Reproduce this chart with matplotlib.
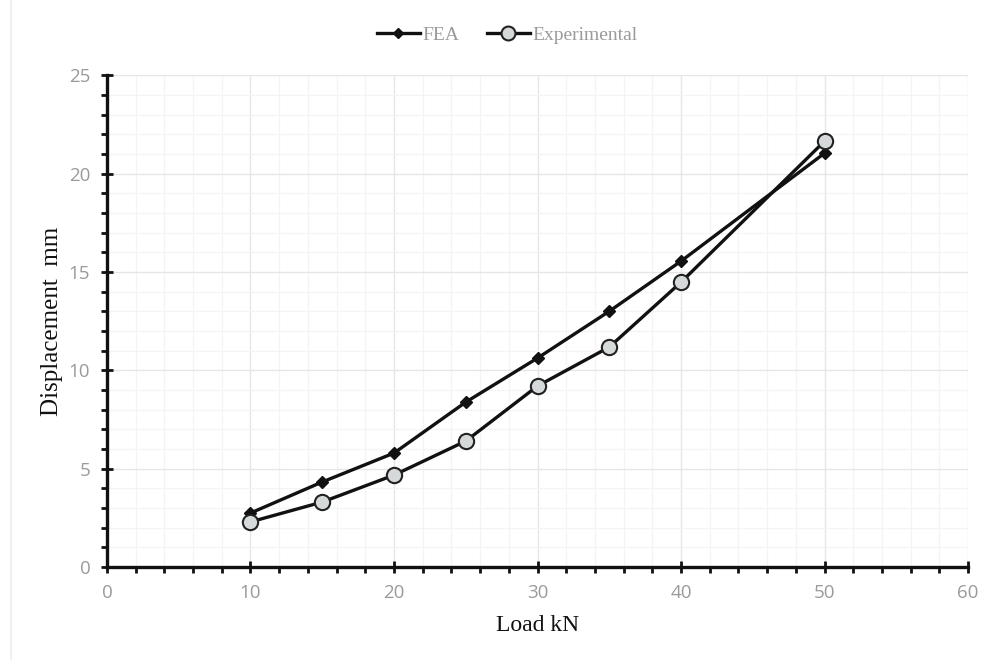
import matplotlib
matplotlib.use("Agg")
import matplotlib.pyplot as plt
from matplotlib.ticker import MultipleLocator
from matplotlib.lines import Line2D

load = [10, 15, 20, 25, 30, 35, 40, 50]
fea = [2.74, 4.32, 5.79, 8.38, 10.62, 13.0, 15.55, 21.04]
experimental = [2.29, 3.3, 4.67, 6.4, 9.2, 11.18, 14.48, 21.65]

fig = plt.figure(figsize=(9.95, 6.6), dpi=100)
ax = fig.add_axes([0.1075, 0.141, 0.8655, 0.745])

ax.plot(load, fea, color="#111111", lw=2.4, marker="D", ms=6, mfc="#111111", mec="#111111", zorder=3)
ax.plot(load, experimental, color="#111111", lw=2.4, marker="o", ms=11, mfc="#d6d9d9", mec="#222222", mew=1.5, zorder=3)

ax.set_xlim(0, 60)
ax.set_ylim(0, 25)
ax.xaxis.set_major_locator(MultipleLocator(10))
ax.xaxis.set_minor_locator(MultipleLocator(2))
ax.yaxis.set_major_locator(MultipleLocator(5))
ax.yaxis.set_minor_locator(MultipleLocator(1))

ax.grid(which="major", color="#e6e6e6", lw=1.0)
ax.grid(which="minor", color="#f4f4f4", lw=0.9)
ax.set_axisbelow(True)

for s in ["top", "right"]:
    ax.spines[s].set_visible(False)
for s in ["left", "bottom"]:
    ax.spines[s].set_linewidth(2.4)
    ax.spines[s].set_color("#111111")

ax.tick_params(which="major", direction="inout", length=8, width=2, color="#111111",
               labelcolor="#9a9a9a", labelsize=13.5, pad=8)
ax.tick_params(which="minor", direction="out", length=4, width=2, color="#111111")
for lbl in ax.get_xticklabels() + ax.get_yticklabels():
    lbl.set_fontfamily("Open Sans")

ax.set_xlabel("Load kN", family="Liberation Serif", fontsize=17, color="#111111", labelpad=10)
ax.set_ylabel("Displacement  mm", family="Liberation Serif", fontsize=18, color="#111111", labelpad=4)

handles = [
    Line2D([], [], color="#111111", lw=2.4, marker="D", ms=5, mfc="#111111", mec="#111111"),
    Line2D([], [], color="#111111", lw=2.4, marker="o", ms=10, mfc="#d6d9d9", mec="#222222", mew=1.5),
]
leg = fig.legend(handles, ["FEA", "Experimental"], loc="center", bbox_to_anchor=(0.51, 0.947),
                 ncol=2, frameon=False, handlelength=2.2, handletextpad=0.15, columnspacing=1.4,
                 prop={"family": "Liberation Serif", "size": 14})
for t in leg.get_texts():
    t.set_color("#9a9a9a")

fig.add_artist(Line2D([0.011, 0.011], [0.0, 1.0], color="#eeeeee", lw=1.2, transform=fig.transFigure))

fig.savefig("out.png", dpi=100)
